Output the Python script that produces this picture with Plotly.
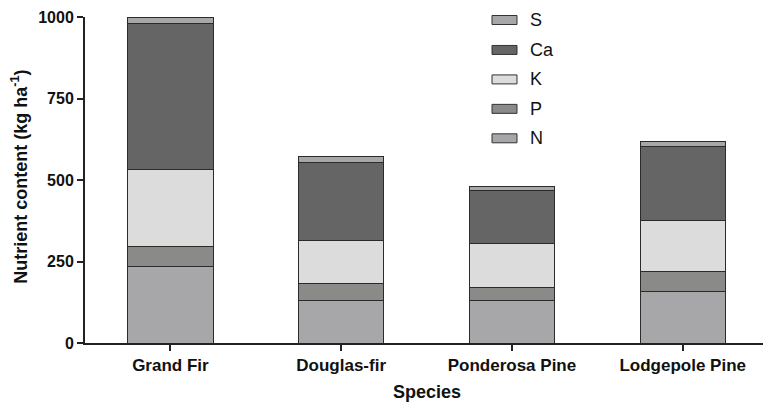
import plotly.graph_objects as go

# Species and nutrient content per element (kg ha^-1), stacked bottom to top
species = ["Grand Fir", "Douglas-fir", "Ponderosa Pine", "Lodgepole Pine"]
N = [234, 130, 130, 157]
P = [62, 51, 41, 61]
K = [235, 133, 133, 157]
Ca = [450, 241, 163, 229]
S = [19, 17, 13, 15]

y_ticks = [0, 250, 500, 750, 1000]

series = [
    ("N", N, "#a7a6a9"),
    ("P", P, "#8a8a88"),
    ("K", K, "#dcdcdc"),
    ("Ca", Ca, "#656565"),
    ("S", S, "#a7a6a9"),
]

W, H = 764, 402
L, R, T, B = 85, 763, 17, 343.5  # plot area in pixels


def px(x):
    return (x - L) / (R - L)


def py(y):
    return (B - y) / (B - T)


fig = go.Figure()
for name, vals, color in series:
    fig.add_trace(go.Bar(
        x=species, y=vals, name=name, width=0.5,
        marker=dict(color=color, line=dict(color="#2b2b2b", width=1)),
        showlegend=False,
    ))

font_bold = "Liberation Sans"
axis_color = "#222222"

# Legend drawn as swatches + labels, top entry first
shapes = []
annotations = []
legend_y = [20, 50, 79.5, 109, 138.5]
for (name, _, color), ly in zip(reversed(series), legend_y):
    shapes.append(dict(
        type="rect", xref="paper", yref="paper",
        x0=px(492), x1=px(517), y0=py(ly + 4.5), y1=py(ly - 4.5),
        fillcolor=color, line=dict(color="#333333", width=1),
    ))
    annotations.append(dict(
        x=px(528), y=py(ly), xref="paper", yref="paper",
        text=name, showarrow=False, xanchor="left", yanchor="middle",
        font=dict(family="Liberation Sans", size=18, color="#111111"),
    ))

# Axis titles
annotations.append(dict(
    x=px(427), y=py(393), xref="paper", yref="paper",
    text="<b>Species</b>", showarrow=False, xanchor="center", yanchor="middle",
    font=dict(family=font_bold, size=18, color="#111111"),
))
annotations.append(dict(
    x=px(20), y=py(177), xref="paper", yref="paper",
    text="<b>Nutrient content (kg ha<sup>-1</sup>)</b>", showarrow=False,
    textangle=-90, xanchor="center", yanchor="middle",
    font=dict(family=font_bold, size=18, color="#111111"),
))

fig.update_layout(
    width=W, height=H,
    margin=dict(l=L, r=W - R, t=T, b=H - B),
    paper_bgcolor="white", plot_bgcolor="white",
    barmode="stack",
    showlegend=False,
    shapes=shapes,
    annotations=annotations,
    xaxis=dict(
        range=[-0.5, 3.47], showgrid=False, zeroline=False,
        showline=True, linecolor=axis_color, linewidth=2,
        ticks="outside", ticklen=6, tickwidth=2, tickcolor=axis_color,
        tickfont=dict(family=font_bold, size=17, color="#111111", weight="bold"),
    ),
    yaxis=dict(
        range=[0, 1000], tickvals=y_ticks, showgrid=False, zeroline=False,
        showline=True, linecolor=axis_color, linewidth=2,
        ticks="outside", ticklen=6, tickwidth=2, tickcolor=axis_color,
        tickfont=dict(family=font_bold, size=16, color="#111111", weight="bold"),
    ),
)

fig.write_html("out.html")
